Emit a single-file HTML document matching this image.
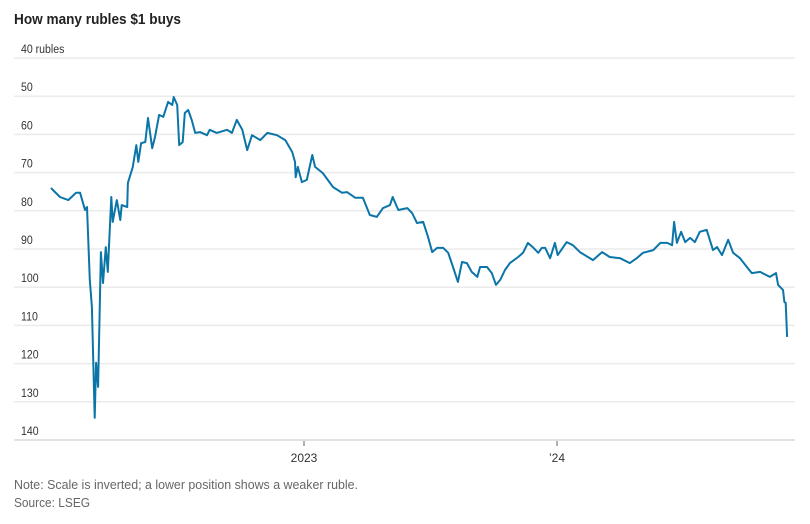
<!DOCTYPE html>
<html><head><meta charset="utf-8">
<style>
body{margin:0;background:#fff;width:810px;height:519px;overflow:hidden;font-family:"Liberation Sans",sans-serif;}
svg text{font-family:"Liberation Sans",sans-serif;}
</style></head>
<body>
<svg width="810" height="519">
<text x="14" y="24" font-size="14.5" font-weight="bold" fill="#222" textLength="167" lengthAdjust="spacingAndGlyphs">How many rubles $1 buys</text>
<g id="grid"></g>
<g id="xaxis"></g>
<path id="line" fill="none" stroke="#0b75a8" stroke-width="2" stroke-linejoin="round"/>
<text x="14" y="489" font-size="12.5" fill="#666" textLength="344" lengthAdjust="spacingAndGlyphs">Note: Scale is inverted; a lower position shows a weaker ruble.</text>
<text x="14" y="507" font-size="12.5" fill="#666" textLength="76" lengthAdjust="spacingAndGlyphs">Source: LSEG</text>
</svg>
<script>
const yTicks=[40,50,60,70,80,90,100,110,120,130,140];
const xTickDays=[365,730];
const xTickLabels=["2023","\u201924"];
const days=[0,4,13,25,36,42,49,52,56,59,63,65,68,72,75,79,82,87,89,95,100,102,110,111,118,123,126,130,136,140,146,150,156,162,169,175,177,182,185,190,193,198,203,208,215,225,229,239,254,261,268,276,283,290,302,312,326,338,348,352,353,356,362,369,377,381,392,407,420,427,439,450,460,470,479,489,493,501,514,521,528,537,544,550,557,566,573,580,587,593,600,607,615,619,629,636,642,648,655,662,674,681,688,695,703,708,713,720,727,731,744,753,763,782,795,806,821,835,845,854,869,879,889,896,899,903,909,915,922,929,936,946,955,961,968,977,984,994,1004,1011,1023,1037,1046,1049,1056,1058,1060,1062];
const rubles=[74.0,74.8,76.4,77.2,75.3,75.3,79.8,79.0,98.1,105.2,134.2,119.8,126.1,90.8,98.9,89.5,96.0,76.4,82.9,77.2,82.4,78.5,79.0,72.7,68.5,62.8,67.2,62.3,62.0,55.7,63.6,60.7,54.9,55.4,51.5,52.3,50.2,52.3,62.8,62.0,54.4,53.6,56.2,59.6,59.4,60.2,58.8,59.6,58.8,59.6,56.2,58.8,64.1,60.2,61.5,59.6,60.2,61.5,64.6,67.2,71.2,68.5,72.5,71.9,65.4,68.5,70.1,73.8,75.3,75.1,76.6,76.6,81.1,81.6,79.3,78.5,76.4,79.8,79.3,80.6,83.2,82.9,86.9,90.8,89.7,89.7,91.0,94.7,98.6,93.4,93.7,96.0,97.3,94.7,94.7,96.3,99.4,98.1,95.5,93.7,92.1,91.0,88.4,89.5,91.0,89.7,89.7,92.4,88.4,91.6,88.2,89.0,90.8,92.9,90.8,92.1,92.4,93.7,92.4,91.0,90.3,88.4,88.4,89.0,82.9,88.4,85.5,88.2,87.1,88.2,85.5,85.0,90.3,89.5,91.6,87.6,91.0,92.4,94.7,96.3,96.0,97.3,96.3,99.4,100.7,103.9,104.1,113.0];
const NS="http://www.w3.org/2000/svg";
const yS=v=>58+(v-40)*3.82;
const xS=d=>51+d*253/365;
const grid=document.getElementById('grid');
yTicks.forEach((t,i)=>{
  const l=document.createElementNS(NS,'line');
  l.setAttribute('x1',14);l.setAttribute('x2',795);
  l.setAttribute('y1',yS(t));l.setAttribute('y2',yS(t));
  l.setAttribute('stroke',i===yTicks.length-1?'#d8d8d8':'#ebebeb');l.setAttribute('stroke-width',1.5);
  
  
  grid.appendChild(l);
  const tx=document.createElementNS(NS,'text');
  tx.setAttribute('x',21);tx.setAttribute('y',yS(t)-5);
  tx.setAttribute('font-size','12');tx.setAttribute('fill','#333');
  tx.setAttribute('transform','translate(21 0) scale(0.88 1) translate(-21 0)');
  tx.textContent=i===0?t+' rubles':t;
  
  
  grid.appendChild(tx);
});
const xa=document.getElementById('xaxis');
xTickDays.forEach((d,i)=>{
  const l=document.createElementNS(NS,'line');
  l.setAttribute('x1',xS(d));l.setAttribute('x2',xS(d));
  l.setAttribute('y1',441);l.setAttribute('y2',446);
  l.setAttribute('stroke','#666');
  
  
  xa.appendChild(l);
  const tx=document.createElementNS(NS,'text');
  tx.setAttribute('x',xS(d));tx.setAttribute('y',462);
  tx.setAttribute('text-anchor','middle');
  tx.setAttribute('font-size','12');tx.setAttribute('fill','#333');
  tx.textContent=xTickLabels[i];
  
  
  xa.appendChild(tx);
});
document.getElementById('line').setAttribute('d',days.map((d,i)=>(i?'L':'M')+xS(d).toFixed(1)+','+yS(rubles[i]).toFixed(1)).join(''));
</script>
</body></html>
